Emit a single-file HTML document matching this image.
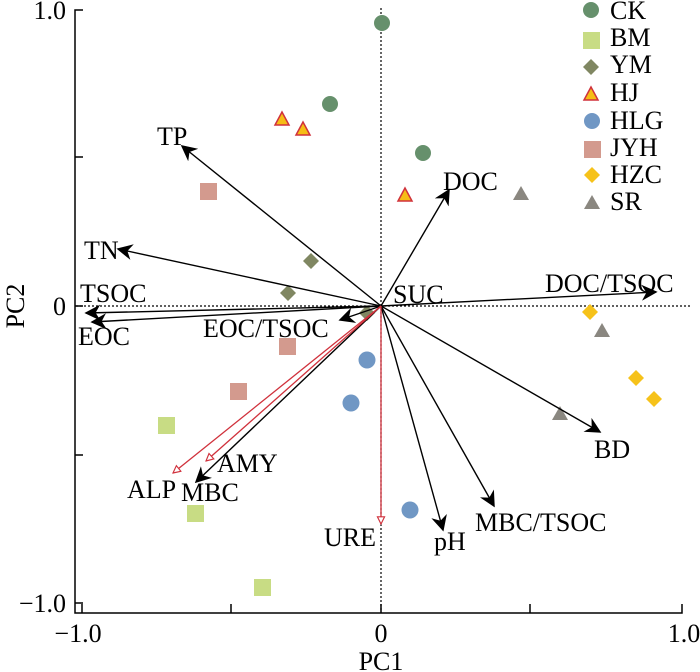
<!DOCTYPE html>
<html><head><meta charset="utf-8"><style>body{margin:0;background:#fff}svg{display:block}text{font-family:"Liberation Serif",serif;fill:#000}</style></head><body>
<svg width="700" height="672" viewBox="0 0 700 672" xmlns="http://www.w3.org/2000/svg">
<defs>
<marker id="ar" viewBox="0 0 10 10" refX="9" refY="5" markerWidth="9" markerHeight="9" orient="auto" markerUnits="userSpaceOnUse"><path d="M1,1 L9,5 L1,9 z" fill="#fff" stroke="#d0313c" stroke-width="1.3"/></marker>
<marker id="ab2" viewBox="0 0 10 10" refX="9" refY="5" markerWidth="16" markerHeight="16" orient="auto" markerUnits="userSpaceOnUse"><path d="M0,0 L10,5 L0,10 L3,5 z" fill="#000"/></marker>
</defs>
<g stroke="#000" stroke-width="1.5" fill="none">
<path d="M83,10 H75 V613 H682 V604"/>
<path d="M75,157 H83 M75,306 H83 M75,455 H83 M75,603 H83"/>
<path d="M82,613 V604 M231,613 V604 M381,613 V604 M530,613 V604"/>
</g>
<g stroke="#000" stroke-width="1.2" stroke-dasharray="2,2">
<line x1="381" y1="8" x2="381" y2="612"/><line x1="76" y1="306" x2="690" y2="306"/>
</g>
<g font-size="26">
<text x="66" y="19" text-anchor="end">1.0</text>
<text x="66" y="315" text-anchor="end">0</text>
<text x="66" y="612" text-anchor="end">−1.0</text>
<text x="78" y="642" text-anchor="middle">−1.0</text>
<text x="381" y="642" text-anchor="middle">0</text>
<text x="684" y="642" text-anchor="middle">1.0</text>
<text x="381" y="670" text-anchor="middle">PC1</text>
<text transform="translate(24,306) rotate(-90)" text-anchor="middle">PC2</text>
</g>
<g fill="#66906c"><circle cx="382" cy="23" r="8"/><circle cx="330" cy="104" r="8"/><circle cx="423" cy="153" r="8"/></g>
<g fill="#f6bd16" stroke="#d0313c" stroke-width="1.5"><path d="M282,112 L289,125 L275,125 z"/><path d="M303,122 L310,135 L296,135 z"/><path d="M405,188 L412,201 L398,201 z"/></g>
<g fill="#d39a8e"><rect x="200" y="183" width="17" height="17"/><rect x="279" y="338" width="17" height="17"/><rect x="230" y="383" width="17" height="17"/></g>
<g fill="#808762"><path d="M311,253 l8,8 l-8,8 l-8,-8z"/><path d="M288,285 l8,8 l-8,8 l-8,-8z"/><path d="M367,305 l8,8 l-8,8 l-8,-8z"/></g>
<g fill="#7097c4"><circle cx="367" cy="360" r="8.5"/><circle cx="351" cy="403" r="8.5"/><circle cx="410" cy="510" r="8.5"/></g>
<g fill="#c8dc84"><rect x="158" y="417" width="17" height="17"/><rect x="187" y="505" width="17" height="17"/><rect x="254" y="579" width="17" height="17"/></g>
<g fill="#f6c21a"><path d="M590,304 l8,8 l-8,8 l-8,-8z"/><path d="M636,370 l8,8 l-8,8 l-8,-8z"/><path d="M654,391 l8,8 l-8,8 l-8,-8z"/></g>
<g fill="#8a8780"><path d="M521,186 l8,14 h-16z"/><path d="M602,323 l8,14 h-16z"/><path d="M560,406 l8,14 h-16z"/></g>
<g stroke="#000" stroke-width="1.4" marker-end="url(#ab2)">
<line x1="381" y1="306" x2="182" y2="146"/>
<line x1="381" y1="306" x2="118" y2="249"/>
<line x1="381" y1="306" x2="86" y2="313"/>
<line x1="381" y1="306" x2="92" y2="322"/>
<line x1="381" y1="306" x2="340" y2="320"/>
<line x1="381" y1="306" x2="449" y2="190"/>
<line x1="381" y1="306" x2="656" y2="292"/>
<line x1="381" y1="306" x2="600" y2="432"/>
<line x1="381" y1="306" x2="494" y2="506"/>
<line x1="381" y1="306" x2="443" y2="530"/>
<line x1="381" y1="306" x2="196" y2="482"/>
</g>
<g stroke="#d0313c" stroke-width="1.3" marker-end="url(#ar)">
<line x1="381" y1="306" x2="381" y2="524"/>
<line x1="381" y1="306" x2="206" y2="461"/>
<line x1="381" y1="306" x2="173" y2="473"/>
</g>
<g font-size="26">
<text x="157" y="145">TP</text>
<text x="84" y="259">TN</text>
<text x="80" y="302">TSOC</text>
<text x="78" y="345">EOC</text>
<text x="203" y="337">EOC/TSOC</text>
<text x="443" y="190">DOC</text>
<text x="545" y="292">DOC/TSOC</text>
<text x="393" y="303">SUC</text>
<text x="594" y="458">BD</text>
<text x="475" y="531">MBC/TSOC</text>
<text x="434" y="550">pH</text>
<text x="324" y="546">URE</text>
<text x="181" y="501">MBC</text>
<text x="217" y="472">AMY</text>
<text x="127" y="498">ALP</text>
</g>
<g>
<circle cx="591" cy="10" r="8" fill="#66906c"/>
<rect x="583" y="32" width="17" height="17" fill="#c8dc84"/>
<path d="M591,59 l8,8 l-8,8 l-8,-8z" fill="#808762"/>
<path d="M591,87 l7,13 h-14z" fill="#f6bd16" stroke="#d0313c" stroke-width="1.5"/>
<circle cx="592" cy="121" r="8" fill="#7097c4"/>
<rect x="584" y="141" width="17" height="17" fill="#d39a8e"/>
<path d="M592,167 l8,8 l-8,8 l-8,-8z" fill="#f6c21a"/>
<path d="M592,195 l8,14 h-16z" fill="#8a8780"/>
</g>
<g font-size="26">
<text x="610" y="19">CK</text><text x="610" y="46">BM</text><text x="610" y="73">YM</text><text x="610" y="101">HJ</text><text x="610" y="129">HLG</text><text x="610" y="156">JYH</text><text x="610" y="183">HZC</text><text x="610" y="210">SR</text>
</g>
</svg>
</body></html>
